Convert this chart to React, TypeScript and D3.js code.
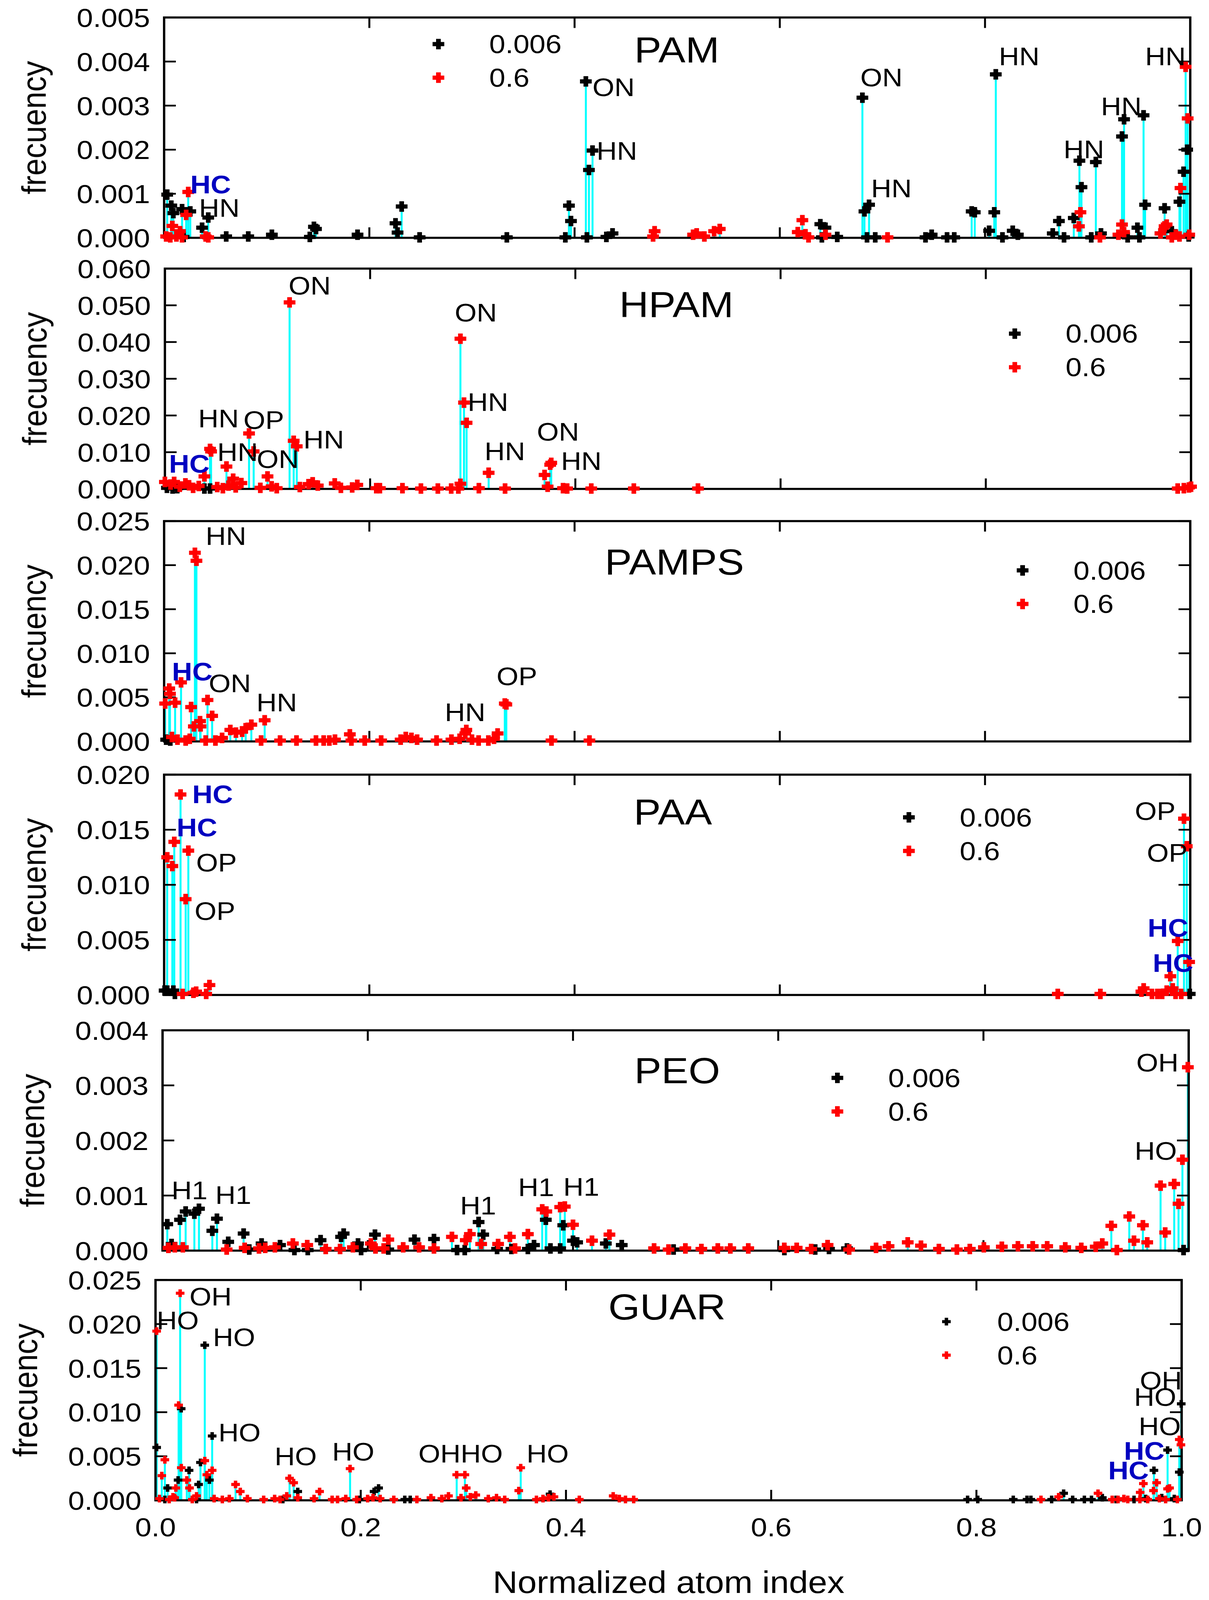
import * as d3 from 'd3'

type Pt = [number, number]
type Note = [string, number, number]

// ---------- data (x = normalized atom index, y = frecuency) ----------
const seriesNames = ['0.006', '0.6']
const xTicks = [0, 0.2, 0.4, 0.6, 0.8, 1.0]

const pamLow: Pt[] = [
  [0.003, 0.00098], [0.007, 0.00073], [0.009, 0.00056], [0.0175, 0.00065], [0.0255, 0.0006], [0.019, 0.00002],
  [0.037, 0.00023], [0.043, 0.00046], [0.0605, 0.00003], [0.082, 0.00003], [0.105, 0.00007], [0.142, 0.00002],
  [0.146, 0.00025], [0.148, 0.0002], [0.1885, 0.00007], [0.2255, 0.00033], [0.2275, 0.00012], [0.2315, 0.00071],
  [0.249, 0.00001], [0.334, 0.00001], [0.391, 0.00001], [0.3945, 0.00073], [0.3965, 0.00038], [0.411, 0.00355],
  [0.414, 0.00154], [0.4175, 0.00198], [0.412, 0.00001], [0.431, 0.00002], [0.437, 0.0001], [0.6395, 0.00031],
  [0.6445, 0.00023], [0.641, 0.00001], [0.656, 0.00002], [0.6805, 0.00318], [0.6825, 0.0006], [0.687, 0.00075],
  [0.685, 0.00001], [0.693, 0.00001], [0.742, 0.00001], [0.748, 0.00007], [0.763, 0.00001], [0.77, 0.00001],
  [0.787, 0.0006], [0.79, 0.00058], [0.804, 0.00016], [0.809, 0.00058], [0.8105, 0.00371], [0.817, 0.00001],
  [0.827, 0.00016], [0.832, 0.00007], [0.866, 0.0001], [0.872, 0.00038], [0.877, 0.00001], [0.8865, 0.00045],
  [0.892, 0.00175], [0.894, 0.00115], [0.9035, 0.00001], [0.908, 0.00172], [0.913, 0.0001], [0.9335, 0.0023],
  [0.9355, 0.00269], [0.939, 0.00001], [0.9485, 0.00023], [0.9505, 0.00001], [0.9545, 0.00278], [0.956, 0.00075],
  [0.971, 0.0001], [0.975, 0.00067], [0.982, 0.00015], [0.9895, 0.00082], [0.9935, 0.0015], [0.997, 0.002],
  [0.9985, 0.00003],
]
const pamHigh: Pt[] = [
  [0.0235, 0.00104], [0.0215, 0.00052], [0.008, 0.00027], [0.002, 0.00003], [0.006, 0.00001], [0.012, 0.00003],
  [0.0155, 0.00015], [0.0175, 0.00001], [0.0405, 0.00003], [0.043, 0.00001], [0.478, 0.00015], [0.4765, 0.00003],
  [0.5155, 0.00007], [0.519, 0.0001], [0.5265, 0.00003], [0.536, 0.00015], [0.5415, 0.0002], [0.6175, 0.00013],
  [0.622, 0.0004], [0.625, 0.00008], [0.628, 0.00001], [0.6445, 0.00007], [0.705, 0.00001], [0.893, 0.00058],
  [0.8915, 0.00026], [0.912, 0.00001], [0.93, 0.00007], [0.9335, 0.0003], [0.9355, 0.00013], [0.971, 0.0001],
  [0.975, 0.00026], [0.977, 0.0003], [0.982, 0.00001], [0.986, 0.00007], [0.9895, 0.00003], [0.9905, 0.00113],
  [0.9955, 0.00388], [0.9975, 0.00271], [0.999, 0.00007],
]
const pamNotes: Note[] = [
  ['HC', 0.0255, 0.00101], ['HN', 0.034, 0.00048], ['ON', 0.4175, 0.00322], ['HN', 0.4215, 0.00177],
  ['ON', 0.6785, 0.00344], ['HN', 0.689, 0.00092], ['HN', 0.8135, 0.00392], ['HN', 0.8765, 0.00181],
  ['HN', 0.913, 0.00278], ['HN', 0.956, 0.00392],
]

const hpamLow: Pt[] = [[0.002, 0.0003], [0.0075, 0.0001], [0.012, 0.0002], [0.0385, 0.0001], [0.044, 0.0001]]
const hpamHigh: Pt[] = [
  [0.1215, 0.0508], [0.288, 0.0409], [0.2915, 0.0235], [0.294, 0.018], [0.1255, 0.0131], [0.1285, 0.0116],
  [0.082, 0.0151], [0.0865, 0.0102], [0.044, 0.0109], [0.045, 0.0102], [0.06, 0.0061], [0.0665, 0.0028],
  [0.0385, 0.0034], [0.1, 0.0034], [0.3155, 0.0044], [0.3765, 0.0071], [0.3755, 0.0066], [0.37, 0.0038],
  [0.373, 0.0006], [0.288, 0.0014], [0.0, 0.0019], [0.0055, 0.0012], [0.009, 0.0019], [0.0145, 0.0006],
  [0.02, 0.0015], [0.0235, 0.001], [0.0275, 0.0003], [0.033, 0.0008], [0.051, 0.0005], [0.0565, 0.0002],
  [0.062, 0.0009], [0.069, 0.0004], [0.0745, 0.0016], [0.093, 0.0003], [0.104, 0.0007], [0.109, 0.0002],
  [0.1315, 0.0005], [0.14, 0.0013], [0.144, 0.0018], [0.149, 0.0009], [0.1655, 0.0015], [0.1715, 0.0003],
  [0.1825, 0.0004], [0.1875, 0.0011], [0.206, 0.0002], [0.2095, 0.0002], [0.2315, 0.0002], [0.2495, 0.0001],
  [0.266, 0.0001], [0.279, 0.0001], [0.286, 0.0001], [0.306, 0.0002], [0.3315, 0.0001], [0.388, 0.0002],
  [0.392, 0.0001], [0.4155, 0.0001], [0.457, 0.0001], [0.5195, 0.0001], [0.987, 0.0001], [0.993, 0.0002],
  [0.998, 0.0004], [1.0, 0.0006],
]
const hpamNotes: Note[] = [
  ['ON', 0.1205, 0.0529], ['ON', 0.2825, 0.0456], ['HN', 0.0325, 0.0168], ['OP', 0.0765, 0.0163],
  ['HN', 0.051, 0.0076], ['ON', 0.0895, 0.0057], ['HN', 0.135, 0.011], ['HC', 0.004, 0.0044],
  ['HN', 0.295, 0.0212], ['HN', 0.3115, 0.0078], ['ON', 0.3625, 0.0131], ['HN', 0.386, 0.0052],
]

const pampsLow: Pt[] = [[0.002, 0.0002], [0.006, 0.0001]]
const pampsHigh: Pt[] = [
  [0.03, 0.0214], [0.0315, 0.0205], [0.0165, 0.0067], [0.005, 0.006], [0.0057, 0.0054], [0.001, 0.0043],
  [0.0107, 0.0044], [0.0263, 0.0039], [0.0423, 0.0047], [0.0468, 0.0029], [0.035, 0.0023], [0.029, 0.0017],
  [0.0355, 0.0017], [0.098, 0.0024], [0.085, 0.0019], [0.0645, 0.0013], [0.07, 0.001], [0.076, 0.0011],
  [0.0795, 0.0015], [0.332, 0.0043], [0.3335, 0.0042], [0.2945, 0.0013], [0.2935, 0.0009], [0.181, 0.0008],
  [0.325, 0.0009], [0.0076, 0.0005], [0.013, 0.0002], [0.021, 0.0001], [0.025, 0.0003], [0.0405, 0.0001],
  [0.05, 0.0001], [0.0565, 0.0004], [0.0945, 0.0001], [0.113, 0.0001], [0.129, 0.0001], [0.148, 0.0001],
  [0.1555, 0.0001], [0.161, 0.0001], [0.1665, 0.0002], [0.1825, 0.0001], [0.1955, 0.0001], [0.2115, 0.0001],
  [0.2305, 0.0002], [0.2355, 0.0005], [0.241, 0.0004], [0.2465, 0.0002], [0.2655, 0.0001], [0.28, 0.0002],
  [0.288, 0.0003], [0.3, 0.0002], [0.3065, 0.0001], [0.316, 0.0001], [0.3215, 0.0003], [0.3775, 0.0001],
  [0.4145, 0.0001],
]
const pampsNotes: Note[] = [
  ['HN', 0.0405, 0.0223], ['HC', 0.0076, 0.0069], ['ON', 0.0435, 0.0056], ['HN', 0.09, 0.0034],
  ['HN', 0.2735, 0.0023], ['OP', 0.324, 0.0064],
]

const paaLow: Pt[] = [[0.0005, 0.0004], [0.003, 0.0004], [0.009, 0.0004], [0.0105, 0.0001], [0.9995, 0.0001]]
const paaHigh: Pt[] = [
  [0.016, 0.0182], [0.0099, 0.0139], [0.003, 0.0125], [0.008, 0.0117], [0.0236, 0.0131], [0.021, 0.0087],
  [0.018, 0.0001], [0.0286, 0.0002], [0.0312, 0.0003], [0.041, 0.0001], [0.0442, 0.0009], [0.9939, 0.016],
  [0.9966, 0.0135], [0.9878, 0.0049], [0.9989, 0.003], [0.9806, 0.0017], [0.8709, 0.0001], [0.9124, 0.0001],
  [0.9524, 0.0003], [0.9546, 0.0006], [0.9627, 0.0001], [0.968, 0.0001], [0.9726, 0.0001], [0.9771, 0.0004],
  [0.9829, 0.0006], [0.9857, 0.0001], [0.9912, 0.0001],
]
const paaNotes: Note[] = [
  ['HC', 0.0274, 0.0174], ['HC', 0.0122, 0.0144], ['OP', 0.0312, 0.0112], ['OP', 0.0297, 0.0068],
  ['OP', 0.946, 0.0159], ['OP', 0.9577, 0.0121], ['HC', 0.9585, 0.0053], ['HC', 0.9634, 0.0021],
]

const peoLow: Pt[] = [
  [0.0046, 0.00048], [0.017, 0.00056], [0.0225, 0.00071], [0.031, 0.00067], [0.0355, 0.00076], [0.0485, 0.00036],
  [0.053, 0.00058], [0.064, 0.00016], [0.079, 0.00031], [0.0088, 0.00012], [0.0965, 0.00013], [0.1145, 0.0001],
  [0.154, 0.00019], [0.174, 0.00025], [0.1765, 0.00031], [0.1905, 0.00013], [0.207, 0.00029], [0.2455, 0.0002],
  [0.2645, 0.00021], [0.308, 0.00052], [0.3125, 0.00029], [0.362, 0.0001], [0.3735, 0.00056], [0.3905, 0.00046],
  [0.4, 0.00018], [0.404, 0.00015], [0.432, 0.00013], [0.4475, 0.0001], [0.0845, 0.00002], [0.1285, 0.00001],
  [0.1415, 0.00001], [0.1935, 0.00001], [0.22, 0.00002], [0.287, 0.00001], [0.2945, 0.00001], [0.326, 0.00003],
  [0.34, 0.00003], [0.356, 0.00003], [0.378, 0.00004], [0.3875, 0.00004], [0.498, 0.00002], [0.606, 0.00001],
  [0.636, 0.00002], [0.6495, 0.00003], [0.667, 0.00004], [0.995, 0.00001],
]
const peoHigh: Pt[] = [
  [0.37, 0.00075], [0.374, 0.00071], [0.3875, 0.00079], [0.392, 0.0008], [0.4, 0.00047], [0.2995, 0.0003],
  [0.356, 0.0003], [0.3385, 0.00025], [0.4355, 0.00029], [0.4185, 0.00018], [0.282, 0.00025], [0.2955, 0.00019],
  [0.22, 0.0002], [0.203, 0.00013], [0.127, 0.00013], [0.141, 0.0001], [0.3105, 0.00012], [0.327, 0.00012],
  [0.0057, 0.00005], [0.012, 0.00006], [0.0198, 0.00006], [0.0625, 0.00002], [0.08, 0.00005], [0.094, 0.00004],
  [0.1, 0.00005], [0.1095, 0.00006], [0.159, 0.00003], [0.173, 0.00003], [0.1855, 0.00006], [0.2075, 0.00004],
  [0.2155, 0.00004], [0.2345, 0.00006], [0.25, 0.00006], [0.2645, 0.00004], [0.3435, 0.00004],
  [0.9992, 0.00333], [0.9939, 0.00165], [0.9859, 0.00121], [0.9726, 0.00118], [0.9901, 0.00085], [0.9771, 0.00033],
  [0.9421, 0.00062], [0.9554, 0.00046], [0.9246, 0.00045], [0.9467, 0.00018], [0.9596, 0.00015], [0.9158, 0.00013],
  [0.93, 0.00001], [0.7262, 0.00015], [0.479, 0.00004], [0.4931, 0.00002], [0.5095, 0.00004], [0.5251, 0.00003],
  [0.5411, 0.00004], [0.5533, 0.00004], [0.5708, 0.00004], [0.6059, 0.00005], [0.618, 0.00005], [0.6321, 0.00003],
  [0.6481, 0.0001], [0.6691, 0.00002], [0.6953, 0.00005], [0.7075, 0.00008], [0.7391, 0.00009], [0.7566, 0.00003],
  [0.7741, 0.00002], [0.7867, 0.00003], [0.8004, 0.00006], [0.8179, 0.00007], [0.8336, 0.00008], [0.848, 0.00008],
  [0.8621, 0.00008], [0.8797, 0.00006], [0.8953, 0.00005], [0.9094, 0.00007],
]
const peoNotes: Note[] = [
  ['H1', 0.0088, 0.00093], ['H1', 0.0514, 0.00085], ['H1', 0.29, 0.00066], ['H1', 0.3465, 0.00099],
  ['H1', 0.3905, 0.001], ['OH', 0.949, 0.00325], ['HO', 0.9474, 0.00165],
]

const guarLow: Pt[] = [
  [0.048, 0.0176], [0.0552, 0.0073], [0.0011, 0.006], [0.025, 0.0104], [0.0327, 0.0034], [0.0438, 0.0043],
  [0.022, 0.0023], [0.0118, 0.0014], [0.042, 0.0018], [0.0525, 0.0023], [0.1386, 0.001], [0.2174, 0.0014],
  [0.213, 0.001], [0.3845, 0.0007], [0.0091, 0.0001], [0.04, 0.0001], [0.1241, 0.0001], [0.1987, 0.0001],
  [0.2429, 0.0001], [0.2482, 0.0001], [0.9996, 0.01095], [0.9863, 0.0057], [0.973, 0.0034], [0.9977, 0.0032],
  [0.885, 0.0008], [0.7914, 0.0001], [0.8013, 0.0001], [0.8359, 0.0001], [0.8493, 0.0001], [0.8531, 0.0001],
  [0.8733, 0.0001], [0.8938, 0.0001], [0.9052, 0.0001], [0.9121, 0.0001], [0.9227, 0.0003], [0.9361, 0.0001],
  [0.9536, 0.0001], [0.965, 0.0002], [0.9806, 0.0003], [0.9928, 0.0002],
]
const guarHigh: Pt[] = [
  [0.024, 0.0235], [0.0011, 0.0192], [0.0225, 0.0108], [0.0251, 0.0037], [0.048, 0.0045], [0.0091, 0.0046],
  [0.0061, 0.0028], [0.0552, 0.0034], [0.05, 0.0029], [0.0305, 0.0023], [0.0331, 0.0014], [0.078, 0.0018],
  [0.0826, 0.001], [0.1306, 0.0025], [0.1346, 0.002], [0.1896, 0.0036], [0.2935, 0.0029], [0.3015, 0.0029],
  [0.3028, 0.0014], [0.3559, 0.0037], [0.354, 0.0011], [0.1599, 0.001], [0.0198, 0.0014], [0.017, 0.0004],
  [0.0038, 0.0002], [0.0133, 0.0001], [0.0187, 0.0003], [0.0358, 0.0001], [0.04, 0.0005], [0.0571, 0.0002],
  [0.0651, 0.0001], [0.0719, 0.0002], [0.0895, 0.0002], [0.1054, 0.0001], [0.1161, 0.0002], [0.1214, 0.0001],
  [0.1279, 0.0005], [0.1386, 0.0003], [0.1545, 0.0002], [0.1721, 0.0001], [0.1774, 0.0001], [0.1854, 0.0002],
  [0.196, 0.0001], [0.2067, 0.0002], [0.212, 0.0003], [0.2189, 0.0002], [0.2322, 0.0001], [0.2547, 0.0001],
  [0.2684, 0.0003], [0.279, 0.0002], [0.2855, 0.0005], [0.2977, 0.0003], [0.3068, 0.0004], [0.3121, 0.0006],
  [0.3243, 0.0002], [0.3323, 0.0003], [0.3403, 0.0001], [0.3712, 0.0001], [0.3776, 0.0002], [0.383, 0.0003],
  [0.3883, 0.0004], [0.413, 0.0001], [0.446, 0.0005], [0.452, 0.0002], [0.458, 0.0001], [0.466, 0.0001],
  [0.9977, 0.0069], [0.9993, 0.0063], [0.9627, 0.0019], [0.9756, 0.002], [0.9882, 0.0014], [0.9863, 0.0013],
  [0.9726, 0.0011], [0.9185, 0.0008], [0.8801, 0.0004], [0.8629, 0.0001], [0.9596, 0.0009], [0.9323, 0.0001],
  [0.938, 0.0001], [0.9437, 0.0002], [0.9475, 0.0001], [0.9593, 0.0001], [0.9669, 0.0001], [0.9783, 0.0002],
  [0.9844, 0.0001], [0.9958, 0.0001],
]
const guarNotes: Note[] = [
  ['OH', 0.0331, 0.0221], ['HO', 0.0011, 0.0194], ['HO', 0.056, 0.0175], ['HO', 0.0613, 0.0067],
  ['HO', 0.1161, 0.004], ['HO', 0.1721, 0.0045], ['OHHO', 0.2562, 0.0043], ['HO', 0.3616, 0.0043],
  ['OH', 0.9593, 0.0126], ['HO', 0.9536, 0.0107], ['HO', 0.9581, 0.0074], ['HC', 0.9437, 0.0046],
  ['HC', 0.9284, 0.0024],
]

// ---------- layout ----------
const W = 3094
const H = 4575
const PW = 2626
const PH = 630
const FONT = "'Liberation Sans', Arial, Helvetica, sans-serif"

const panels = [
  { name: 'PAM', low: pamLow, high: pamHigh, notes: pamNotes, yMax: 0.005, yStep: 0.001, top: 50, left: 420, title: [1732, 179], legend: [1122, 126], mark: 30 },
  { name: 'HPAM', low: hpamLow, high: hpamHigh, notes: hpamNotes, yMax: 0.06, yStep: 0.01, top: 768, left: 422, title: [1731, 907], legend: [2597, 954], mark: 30 },
  { name: 'PAMPS', low: pampsLow, high: pampsHigh, notes: pampsNotes, yMax: 0.025, yStep: 0.005, top: 1490, left: 420, title: [1726, 1643], legend: [2617, 1631], mark: 30 },
  { name: 'PAA', low: paaLow, high: paaHigh, notes: paaNotes, yMax: 0.02, yStep: 0.005, top: 2215, left: 420, title: [1722, 2358], legend: [2326, 2337], mark: 30 },
  { name: 'PEO', low: peoLow, high: peoHigh, notes: peoNotes, yMax: 0.004, yStep: 0.001, top: 2946, left: 416, title: [1733, 3097], legend: [2143, 3082], mark: 30 },
  { name: 'GUAR', low: guarLow, high: guarHigh, notes: guarNotes, yMax: 0.025, yStep: 0.005, top: 3660, left: 398, title: [1707, 3773], legend: [2422, 3779], mark: 22 },
]

// thick plus marker
function plus(w: number) {
  const a = w / 2
  const b = w * 0.2
  return `M${-b},${-a}H${b}V${-b}H${a}V${b}H${b}V${a}H${-b}V${b}H${-a}V${-b}H${-b}Z`
}

function Panel({ p, last }: { p: typeof panels[0]; last: boolean }) {
  const x = d3.scaleLinear().domain([0, 1]).range([p.left, p.left + PW])
  const y = d3.scaleLinear().domain([0, p.yMax]).range([p.top + PH, p.top])
  const yTicks = d3.range(0, Math.round(p.yMax / p.yStep) + 1).map((k) => k * p.yStep)
  const fmtY = d3.format('.3f')
  const fmtX = d3.format('.1f')
  const right = p.left + PW
  const bottom = p.top + PH
  const marker = plus(p.mark)
  const all = [...p.low, ...p.high]
  const [lx, ly] = p.legend

  return (
    <g>
      {/* stems */}
      {all.map((d, i) => (
        <line key={'s' + i} x1={x(d[0])} x2={x(d[0])} y1={y(0)} y2={y(d[1])} stroke="#00FFFF" strokeWidth={5} />
      ))}
      {/* frame */}
      <rect x={p.left} y={p.top} width={PW} height={PH} fill="none" stroke="#000" strokeWidth={6} />
      {yTicks.map((t) => (
        <g key={'y' + t}>
          <line x1={p.left} x2={p.left + 30} y1={y(t)} y2={y(t)} stroke="#000" strokeWidth={5} />
          <line x1={right - 30} x2={right} y1={y(t)} y2={y(t)} stroke="#000" strokeWidth={5} />
          <text x={p.left - 36} y={y(t)} dy="0.36em" textAnchor="end" fontSize={75}>{fmtY(t)}</text>
        </g>
      ))}
      {xTicks.map((t) => (
        <g key={'x' + t}>
          <line x1={x(t)} x2={x(t)} y1={bottom} y2={bottom - 30} stroke="#000" strokeWidth={5} />
          <line x1={x(t)} x2={x(t)} y1={p.top} y2={p.top + 30} stroke="#000" strokeWidth={5} />
          {last && (
            <text x={x(t)} y={bottom + 103} textAnchor="middle" fontSize={75}>{fmtX(t)}</text>
          )}
        </g>
      ))}
      {/* markers */}
      {p.low.map((d, i) => (
        <path key={'b' + i} d={marker} transform={`translate(${x(d[0])},${y(d[1])})`} fill="#000" />
      ))}
      {p.high.map((d, i) => (
        <path key={'r' + i} d={marker} transform={`translate(${x(d[0])},${y(d[1])})`} fill="#FF0000" />
      ))}
      {/* atom labels */}
      {p.notes.map((n, i) => (
        <text
          key={'n' + i}
          x={x(n[1])}
          y={y(n[2])}
          fontSize={72}
          fill={n[0] === 'HC' ? '#0000C0' : '#000'}
          fontWeight={n[0] === 'HC' ? 'bold' : 'normal'}
        >
          {n[0]}
        </text>
      ))}
      {/* legend */}
      {seriesNames.map((s, i) => (
        <g key={'l' + s}>
          <path d={marker} transform={`translate(${lx},${ly + i * 96})`} fill={i === 0 ? '#000' : '#FF0000'} />
          <text x={lx + 130} y={ly + i * 96 + 26} fontSize={74}>{s}</text>
        </g>
      ))}
      <text x={p.title[0]} y={p.title[1]} textAnchor="middle" fontSize={104}>{p.name}</text>
      <text transform={`translate(${p.left - 303},${p.top + PH / 2}) rotate(-90)`} textAnchor="middle" fontSize={88}>
        frecuency
      </text>
    </g>
  )
}

export default function App() {
  // the whole figure is fitted to the visible window so nothing is cut at the bottom
  return (
    <svg
      viewBox={`0 0 ${W} ${H}`}
      preserveAspectRatio="none"
      style={{ position: 'fixed', left: 0, top: 0, width: '100vw', height: '100vh', display: 'block' }}
      fontFamily={FONT}
    >
      <rect width={W} height={H} fill="#fff" />
      {panels.map((p, i) => (
        <Panel key={p.name} p={p} last={i === panels.length - 1} />
      ))}
      <text x={1711} y={4555} textAnchor="middle" fontSize={88}>Normalized atom index</text>
    </svg>
  )
}
